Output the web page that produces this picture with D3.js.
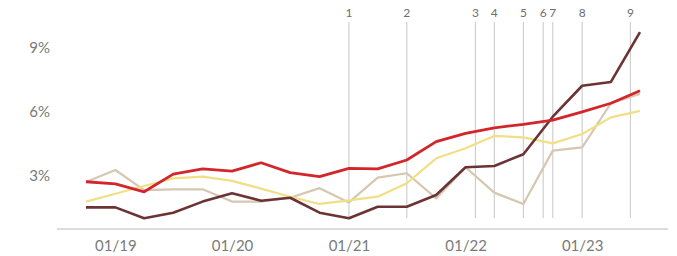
<!DOCTYPE html>
<html>
<head>
<meta charset="utf-8">
<script src="https://cdn.jsdelivr.net/npm/d3@7"></script>
<style>
  body { margin: 0; background: #fff; }
  text { font-family: Lato, "Open Sans", sans-serif; }
</style>
</head>
<body>
<div id="chart"></div>
<script>
// quarterly observations, 10/18 .. 07/23
const quarters = [
  "2018-10-01", "2019-01-01", "2019-04-01", "2019-07-01", "2019-10-01",
  "2020-01-01", "2020-04-01", "2020-07-01", "2020-10-01", "2021-01-01",
  "2021-04-01", "2021-07-01", "2021-10-01", "2022-01-01", "2022-04-01",
  "2022-07-01", "2022-10-01", "2023-01-01", "2023-04-01", "2023-07-01"
];

const tanValues = [2.72, 3.28, 2.34, 2.37, 2.38, 1.8, 1.8, 1.98, 2.43, 1.76,
  2.92, 3.13, 1.95, 3.41, 2.22, 1.69, 4.19, 4.34, 6.41, 6.85];
const yellowValues = [1.8, 2.17, 2.53, 2.89, 2.97, 2.77, 2.41, 2.03, 1.69, 1.86,
  2.03, 2.66, 3.83, 4.3, 4.88, 4.81, 4.53, 4.97, 5.75, 6.05];
const darkValues = [1.53, 1.53, 1.02, 1.28, 1.8, 2.19, 1.84, 1.98, 1.28, 1.02,
  1.56, 1.56, 2.11, 3.41, 3.47, 4.02, 5.78, 7.23, 7.41, 9.74];
const redValues = [2.73, 2.63, 2.26, 3.09, 3.33, 3.23, 3.62, 3.16, 2.97, 3.36,
  3.33, 3.75, 4.61, 5.0, 5.26, 5.42, 5.62, 6.01, 6.41, 7.0];

const xTicks = ["2019-01-01", "2020-01-01", "2021-01-01", "2022-01-01", "2023-01-01"];
const yTicks = [3, 6, 9];

const eventLabels = ["1", "2", "3", "4", "5", "6", "7", "8", "9"];
const eventDates = [
  "2021-01-01", "2021-07-01", "2022-02-01", "2022-04-01", "2022-07-01",
  "2022-09-01", "2022-10-01", "2023-01-01", "2023-06-01"
];

const width = 677, height = 256;
const parse = d3.utcParse("%Y-%m-%d");

const svg = d3.select("#chart")
  .append("svg")
  .attr("width", width)
  .attr("height", height);

const x = d3.scaleUtc()
  .domain([parse(quarters[0]), parse(quarters[quarters.length - 1])])
  .range([86, 640]);

const y = d3.scaleLinear().domain([3, 9]).range([176, 48]);

// baseline
svg.append("line")
  .attr("x1", 57).attr("x2", 668)
  .attr("y1", 229).attr("y2", 229)
  .attr("stroke", "#dcdcdc")
  .attr("stroke-width", 2);

// x axis labels
const xAxis = d3.axisBottom(x)
  .tickValues(xTicks.map(parse))
  .tickFormat(d3.utcFormat("%m/%y"))
  .tickSize(0)
  .tickPadding(0);

svg.append("g")
  .attr("transform", "translate(0, 240)")
  .call(xAxis)
  .call((g) => g.select(".domain").remove())
  .selectAll("text")
  .attr("dy", "0.71em")
  .attr("fill", "#7a7a7a")
  .style("font-size", "15px");

// y axis labels
const yAxis = d3.axisLeft(y)
  .tickValues(yTicks)
  .tickFormat((d) => d + "%")
  .tickSize(0)
  .tickPadding(0);

svg.append("g")
  .attr("transform", "translate(50, 0)")
  .call(yAxis)
  .call((g) => g.select(".domain").remove())
  .selectAll("text")
  .attr("fill", "#7a7a7a")
  .style("font-size", "15px");

// event markers
const events = eventLabels.map((label, i) => ({ label, date: parse(eventDates[i]) }));

const ev = svg.append("g").selectAll("g").data(events).enter().append("g");

ev.append("line")
  .attr("x1", (d) => x(d.date)).attr("x2", (d) => x(d.date))
  .attr("y1", 22).attr("y2", 218)
  .attr("stroke", "#cfcfcf")
  .attr("stroke-width", 1.2);

ev.append("text")
  .attr("x", (d) => x(d.date))
  .attr("y", 17)
  .attr("text-anchor", "middle")
  .attr("fill", "#6e6e6e")
  .style("font-size", "12px")
  .text((d) => d.label);

// series lines
const series = [
  { name: "tan", values: tanValues, color: "#d5c7b0", w: 2.2 },
  { name: "yellow", values: yellowValues, color: "#f1df86", w: 2.2 },
  { name: "dark", values: darkValues, color: "#6c3335", w: 2.6 },
  { name: "red", values: redValues, color: "#d2262b", w: 2.8 }
];

const line = d3.line()
  .x((d, i) => x(parse(quarters[i])))
  .y((d) => y(d));

svg.append("g")
  .selectAll("path")
  .data(series)
  .enter()
  .append("path")
  .attr("d", (s) => line(s.values))
  .attr("fill", "none")
  .attr("stroke", (s) => s.color)
  .attr("stroke-width", (s) => s.w)
  .attr("stroke-linejoin", "round");
</script>
</body>
</html>
